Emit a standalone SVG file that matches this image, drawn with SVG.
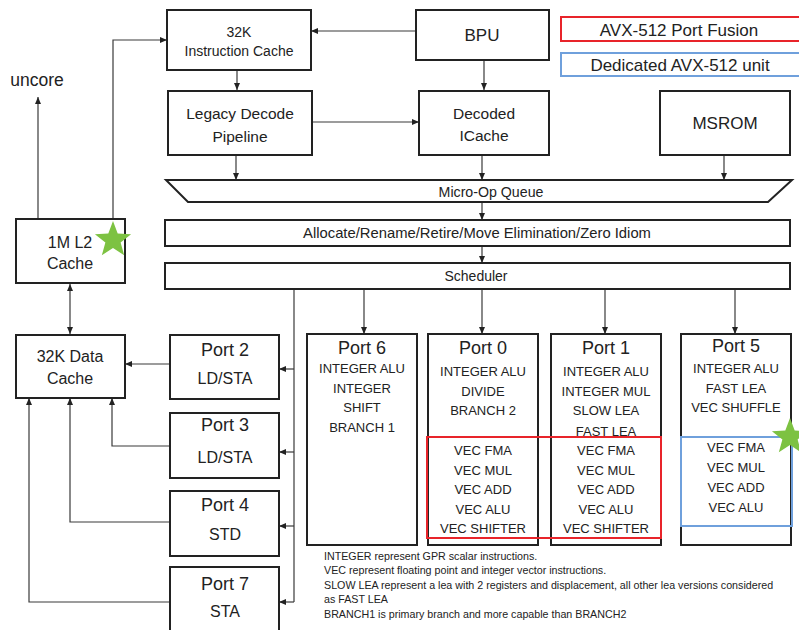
<svg xmlns="http://www.w3.org/2000/svg" width="799" height="630" viewBox="0 0 799 630">
<defs>
<style>
text{font-family:"Liberation Sans",Arial,sans-serif;fill:#222;text-anchor:middle;dominant-baseline:central}
.box{fill:#fff;stroke:#222;stroke-width:2}
.c{fill:none;stroke:#3a3a3a;stroke-width:1.2}
.t18{font-size:18px}.t16{font-size:16px}.t15{font-size:15.5px}.t14{font-size:14px}.t13{font-size:13px}.t17{font-size:17px}
.fn{font-size:10.7px;text-anchor:start}
.star{fill:#7dc242}
</style>
<marker id="ah" markerWidth="8" markerHeight="8" refX="7" refY="4" orient="auto" markerUnits="userSpaceOnUse">
<path d="M0,1 L7,4 L0,7 Z" fill="#222"/>
</marker>
<marker id="ahs" markerWidth="8" markerHeight="8" refX="1" refY="4" orient="auto" markerUnits="userSpaceOnUse">
<path d="M8,1 L1,4 L8,7 Z" fill="#222"/>
</marker>
<path id="star" d="M0,-19 L4.7,-6.47 L18.07,-5.87 L7.61,2.47 L11.17,15.37 L0,8 L-11.17,15.37 L-7.61,2.47 L-18.07,-5.87 L-4.7,-6.47 Z"/>
</defs>
<rect width="799" height="630" fill="#fff"/>

<g id="connectors">
<path class="c" d="M237,70 V90" marker-end="url(#ah)"/>
<path class="c" d="M549,31 H311" marker-end="url(#ah)"/>
<path class="c" d="M484,60 V90" marker-end="url(#ah)"/>
<path class="c" d="M312,122 H419" marker-end="url(#ah)"/>
<path class="c" d="M236,155 V180" marker-end="url(#ah)"/>
<path class="c" d="M482,155 V180" marker-end="url(#ah)"/>
<path class="c" d="M724,155 V180" marker-end="url(#ah)"/>
<path class="c" d="M482,202 V220" marker-end="url(#ah)"/>
<path class="c" d="M482,246 V263" marker-end="url(#ah)"/>
<path class="c" d="M38,219 V97" marker-end="url(#ah)"/>
<path class="c" d="M113,219 V40 H167" marker-end="url(#ah)"/>
<path class="c" d="M70,284 V334" marker-start="url(#ahs)" marker-end="url(#ah)"/>
<path class="c" d="M170,364 H125" marker-end="url(#ah)"/>
<path class="c" d="M170,446 H112 V398" marker-end="url(#ah)"/>
<path class="c" d="M170,522 H70 V398" marker-end="url(#ah)"/>
<path class="c" d="M170,602 H29 V398" marker-end="url(#ah)"/>
<path class="c" d="M294,289 V602"/>
<path class="c" d="M294,369 H279" marker-end="url(#ah)"/>
<path class="c" d="M294,452 H279" marker-end="url(#ah)"/>
<path class="c" d="M294,526 H279" marker-end="url(#ah)"/>
<path class="c" d="M294,602 H279" marker-end="url(#ah)"/>
<path class="c" d="M364,289 V334" marker-end="url(#ah)"/>
<path class="c" d="M482,289 V334" marker-end="url(#ah)"/>
<path class="c" d="M605,289 V334" marker-end="url(#ah)"/>
<path class="c" d="M735,289 V334" marker-end="url(#ah)"/>
</g>

<g id="legend-fusion">
<rect x="561" y="17" width="245" height="24" fill="#fff" stroke="#e8242a" stroke-width="2"/>
<text class="t17" x="679" y="30">AVX-512 Port Fusion</text>
</g>
<g id="legend-dedicated">
<rect x="561" y="53" width="245" height="23" fill="#fff" stroke="#6fa0dc" stroke-width="2"/>
<text class="t17" x="680" y="65">Dedicated AVX-512 unit</text>
</g>

<g id="uncore"><text x="37" y="80" style="font-size:17.5px">uncore</text></g>

<g id="icache">
<rect class="box" x="167" y="10" width="144" height="60"/>
<text class="t14" x="239" y="32">32K</text>
<text class="t14" x="239" y="51">Instruction Cache</text>
</g>
<g id="bpu">
<rect class="box" x="416" y="10" width="133" height="50"/>
<text class="t17" x="482" y="35">BPU</text>
</g>
<g id="legacy">
<rect class="box" x="168" y="91" width="144" height="64"/>
<text class="t15" x="240" y="113">Legacy Decode</text>
<text class="t15" x="240" y="136">Pipeline</text>
</g>
<g id="decoded">
<rect class="box" x="419" y="91" width="130" height="64"/>
<text class="t15" x="484" y="113">Decoded</text>
<text class="t15" x="484" y="135">ICache</text>
</g>
<g id="msrom">
<rect class="box" x="660" y="91" width="130" height="64"/>
<text class="t17" x="725" y="123">MSROM</text>
</g>
<g id="uopq">
<path class="box" d="M166,180 H792 L768,202 H188 Z"/>
<text x="491" y="192" style="font-size:14.2px">Micro-Op Queue</text>
</g>
<g id="allocate">
<rect class="box" x="165" y="220" width="625" height="26"/>
<text x="477" y="233" style="font-size:14.8px">Allocate/Rename/Retire/Move Elimination/Zero Idiom</text>
</g>
<g id="scheduler">
<rect class="box" x="165" y="263" width="625" height="26"/>
<text x="476" y="276" style="font-size:14px">Scheduler</text>
</g>

<g id="l2">
<rect class="box" x="16" y="219" width="109" height="64"/>
<text class="t16" x="70" y="242">1M L2</text>
<text class="t16" x="70" y="263">Cache</text>
<use href="#star" class="star" x="113" y="240"/>
</g>
<g id="dcache">
<rect class="box" x="16" y="335" width="109" height="63"/>
<text class="t16" x="70" y="356">32K Data</text>
<text class="t16" x="70" y="378">Cache</text>
</g>

<g id="port2">
<rect class="box" x="170" y="335" width="109" height="64"/>
<text class="t18" x="225" y="350">Port 2</text>
<text class="t16" x="225" y="378">LD/STA</text>
</g>
<g id="port3">
<rect class="box" x="170" y="413" width="109" height="65"/>
<text class="t18" x="225" y="425">Port 3</text>
<text class="t16" x="225" y="457">LD/STA</text>
</g>
<g id="port4">
<rect class="box" x="170" y="491" width="109" height="65"/>
<text class="t18" x="225" y="505">Port 4</text>
<text class="t16" x="225" y="534">STD</text>
</g>
<g id="port7">
<rect class="box" x="170" y="567" width="109" height="70"/>
<text class="t18" x="225" y="584">Port 7</text>
<text class="t16" x="225" y="611">STA</text>
</g>

<g id="port6">
<rect class="box" x="307" y="334" width="110" height="211"/>
<text class="t18" x="362" y="348">Port 6</text>
<text class="t13" x="362" y="368">INTEGER ALU</text>
<text class="t13" x="362" y="388">INTEGER</text>
<text class="t13" x="362" y="407">SHIFT</text>
<text class="t13" x="362" y="427">BRANCH 1</text>
</g>
<g id="port0">
<rect class="box" x="428" y="334" width="110" height="211"/>
<text class="t18" x="483" y="348">Port 0</text>
<text class="t13" x="483" y="371">INTEGER ALU</text>
<text class="t13" x="483" y="391">DIVIDE</text>
<text class="t13" x="483" y="410">BRANCH 2</text>
<text class="t13" x="483" y="450">VEC FMA</text>
<text class="t13" x="483" y="470">VEC MUL</text>
<text class="t13" x="483" y="489">VEC ADD</text>
<text class="t13" x="483" y="509">VEC ALU</text>
<text class="t13" x="483" y="528">VEC SHIFTER</text>
</g>
<g id="port1">
<rect class="box" x="551" y="334" width="110" height="211"/>
<text class="t18" x="606" y="348">Port 1</text>
<text class="t13" x="606" y="371">INTEGER ALU</text>
<text class="t13" x="606" y="391">INTEGER MUL</text>
<text class="t13" x="606" y="410">SLOW LEA</text>
<text class="t13" x="606" y="431">FAST LEA</text>
<text class="t13" x="606" y="450">VEC FMA</text>
<text class="t13" x="606" y="470">VEC MUL</text>
<text class="t13" x="606" y="489">VEC ADD</text>
<text class="t13" x="606" y="509">VEC ALU</text>
<text class="t13" x="606" y="528">VEC SHIFTER</text>
</g>
<g id="port5">
<rect class="box" x="681" y="334" width="110" height="211"/>
<text class="t18" x="736" y="346">Port 5</text>
<text class="t13" x="736" y="368">INTEGER ALU</text>
<text class="t13" x="736" y="388">FAST LEA</text>
<text class="t13" x="736" y="407">VEC SHUFFLE</text>
<text class="t13" x="736" y="447">VEC FMA</text>
<text class="t13" x="736" y="467">VEC MUL</text>
<text class="t13" x="736" y="487">VEC ADD</text>
<text class="t13" x="736" y="507">VEC ALU</text>
</g>

<g id="fusion-region">
<rect x="427" y="437" width="234" height="101" fill="none" stroke="#e8242a" stroke-width="2"/>
</g>
<g id="dedicated-region">
<rect x="681" y="437" width="111" height="89" fill="none" stroke="#6fa0dc" stroke-width="2"/>
<use href="#star" class="star" x="790" y="437"/>
</g>

<g id="footnote">
<text class="fn" x="324" y="556">INTEGER represent GPR scalar instructions.</text>
<text class="fn" x="324" y="570">VEC represent floating point and integer vector instructions.</text>
<text class="fn" x="324" y="585">SLOW LEA represent a lea with 2 registers and displacement, all other lea versions considered</text>
<text class="fn" x="324" y="599">as FAST LEA</text>
<text class="fn" x="324" y="614">BRANCH1 is primary branch and more capable than BRANCH2</text>
</g>
</svg>
